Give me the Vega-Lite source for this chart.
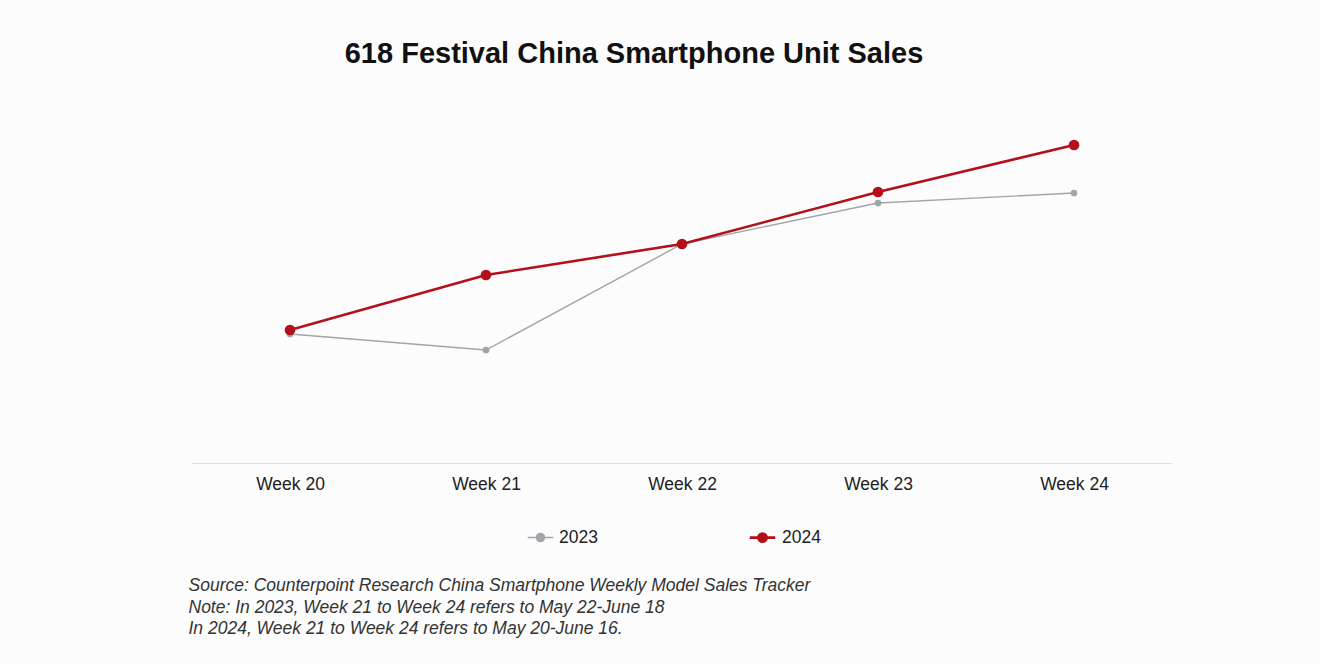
{
  "$schema": "https://vega.github.io/schema/vega-lite/v6.json",
  "autosize": {"type": "none"},
  "padding": {"left": 192, "top": 113, "right": 148, "bottom": 201},
  "width": 980,
  "height": 350,
  "background": "#fcfcfd",
  "config": {
    "font": "Liberation Sans",
    "view": {"stroke": null}
  },
  "title": {
    "text": "618 Festival China Smartphone Unit Sales",
    "fontSize": 29,
    "fontWeight": "bold",
    "color": "#111111",
    "anchor": "middle",
    "dx": -48,
    "offset": 44
  },
  "data": {
    "values": [
      {"week": "Week 20", "year": "2023", "sales": 129},
      {"week": "Week 21", "year": "2023", "sales": 113},
      {"week": "Week 22", "year": "2023", "sales": 219},
      {"week": "Week 23", "year": "2023", "sales": 260},
      {"week": "Week 24", "year": "2023", "sales": 270},
      {"week": "Week 20", "year": "2024", "sales": 133},
      {"week": "Week 21", "year": "2024", "sales": 188},
      {"week": "Week 22", "year": "2024", "sales": 219},
      {"week": "Week 23", "year": "2024", "sales": 271},
      {"week": "Week 24", "year": "2024", "sales": 318}
    ]
  },
  "encoding": {
    "x": {
      "field": "week",
      "type": "nominal",
      "sort": null,
      "scale": {"type": "point", "padding": 0.5},
      "axis": {
        "title": [
          "Source: Counterpoint Research China Smartphone Weekly Model Sales Tracker",
          "Note: In 2023, Week 21 to Week 24 refers to May 22-June 18",
          "In 2024, Week 21 to Week 24 refers to May 20-June 16."
        ],
        "titleFontStyle": "italic",
        "titleFontWeight": "normal",
        "titleFontSize": 17.5,
        "titleColor": "#333333",
        "titleAlign": "left",
        "titleAnchor": "start",
        "titleBaseline": "top",
        "titleLineHeight": 21.5,
        "titleX": -4,
        "titleY": 113.5,
        "labelAngle": 0,
        "labelFontSize": 17.5,
        "labelColor": "#222222",
        "labelPadding": 12,
        "ticks": false,
        "grid": false,
        "domainColor": "#dde0e6",
        "domainWidth": 1
      }
    },
    "y": {
      "field": "sales",
      "type": "quantitative",
      "scale": {"domain": [0, 350], "nice": false, "zero": true},
      "axis": null
    },
    "color": {
      "field": "year",
      "type": "nominal",
      "scale": {"domain": ["2023", "2024"], "range": ["#a1a5ab", "#b3101b"]},
      "legend": {
        "title": null,
        "orient": "none",
        "direction": "horizontal",
        "legendX": 335,
        "legendY": 410,
        "columnPadding": 146,
        "labelFontSize": 17.5,
        "labelColor": "#222222",
        "labelOffset": 5,
        "symbolType": "M-1,0L-0.32,0M0.32,0L1,0M-0.32,0A0.32,0.32 0 1,1 0.32,0A0.32,0.32 0 1,1 -0.32,0Z",
        "symbolSize": 650,
        "symbolStrokeWidth": 1.8,
        "encode": {
          "symbols": {
            "update": {
              "fill": {"scale": "color", "field": "value"},
              "fillOpacity": {"value": 1}
            }
          }
        }
      }
    }
  },
  "layer": [
    {
      "mark": {"type": "line"},
      "encoding": {
        "strokeWidth": {
          "field": "year",
          "type": "nominal",
          "scale": {"domain": ["2023", "2024"], "range": [1.4, 2.6]},
          "legend": null
        }
      }
    },
    {
      "transform": [{"filter": "datum.year == '2023'"}],
      "mark": {"type": "point", "filled": true, "opacity": 1, "size": 45}
    },
    {
      "transform": [{"filter": "datum.year == '2024'"}],
      "mark": {"type": "point", "filled": true, "opacity": 1, "size": 115}
    }
  ]
}
